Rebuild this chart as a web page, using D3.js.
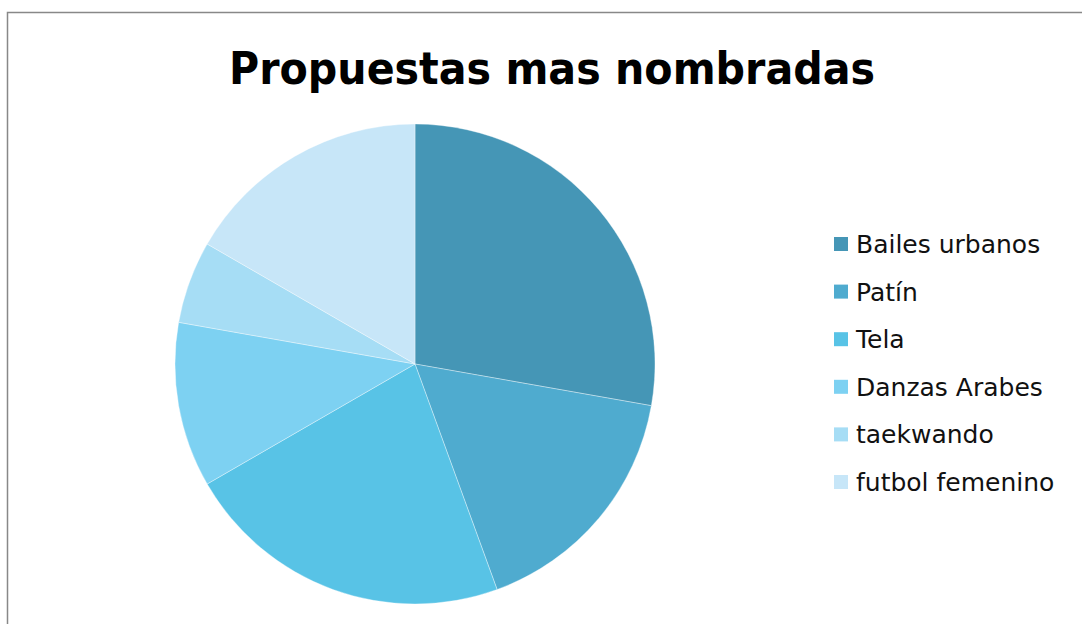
<!DOCTYPE html>
<html><head><meta charset="utf-8">
<script src="https://cdn.jsdelivr.net/npm/d3@7"></script>
<style>body{margin:0;background:#fff;}svg{display:block;}</style>
</head><body>
<svg id="c" width="1082" height="624"></svg>
<script>
const categories = ["Bailes urbanos","Patín","Tela","Danzas Arabes","taekwando","futbol femenino"];
const values = [5,3,4,2,1,3];
const colors = ["#4596B6","#4FABCF","#58C3E6","#7DD1F2","#A6DDF5","#C7E6F8"];
const title = "Propuestas mas nombradas";

const svg = d3.select("#c");
svg.append("rect").attr("x",7.5).attr("y",12.5).attr("width",1200).attr("height",700)
  .attr("fill","#fff").attr("stroke","#888").attr("stroke-width",1.5);

svg.append("text").attr("x",552).attr("y",84).attr("text-anchor","middle")
  .attr("font-family","DejaVu Sans").attr("font-weight","bold").attr("font-size",44)
  .attr("textLength",646).attr("lengthAdjust","spacingAndGlyphs")
  .text(title);

const cx=415, cy=364, r=240;
const data = categories.map((c,i)=>({c, v:values[i]}));
const pie = d3.pie().value(d=>d.v).sort(null);
const arc = d3.arc().innerRadius(0).outerRadius(r);
const g = svg.append("g").attr("transform",`translate(${cx},${cy})`);
g.selectAll("path").data(pie(data)).join("path")
  .attr("d",arc).attr("fill",(d,i)=>colors[i])
  .attr("stroke","#fff").attr("stroke-width",0.6).attr("stroke-opacity",0.6);

const color = d3.scaleOrdinal().domain(categories).range(colors);
const ly = d3.scalePoint().domain(categories).range([244,482]);
const lg = svg.append("g");
const items = lg.selectAll("g").data(categories).join("g")
  .attr("transform",d=>`translate(834,${ly(d)})`);
items.append("rect").attr("x",0).attr("y",-7).attr("width",14).attr("height",14).attr("fill",d=>color(d));
items.append("text").attr("x",22).attr("y",0).attr("dy","0.36em")
  .attr("font-family","DejaVu Sans").attr("font-size",25).attr("fill","#111").text(d=>d);
</script>
</body></html>
